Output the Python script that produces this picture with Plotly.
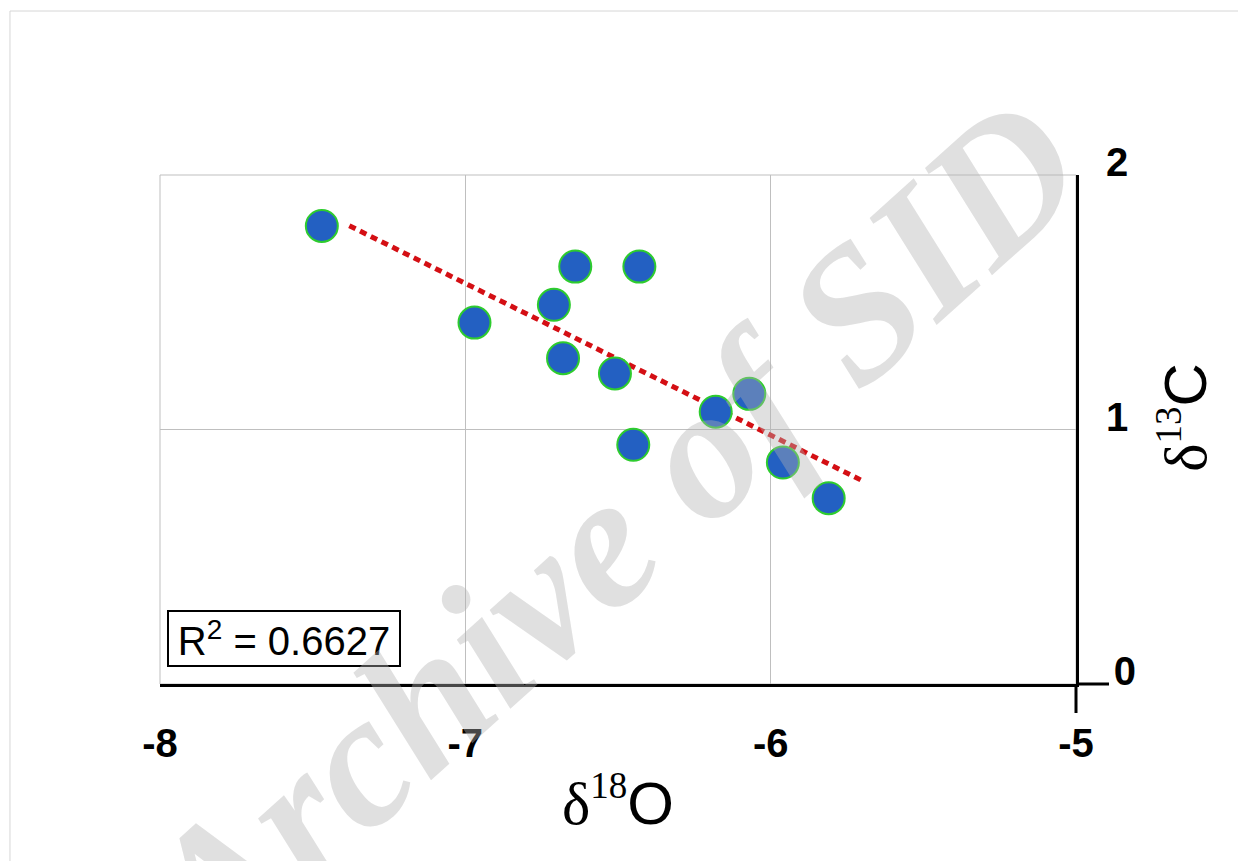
import numpy as np
import plotly.graph_objects as go

# ---- data ----
d18O = [-7.47, -6.97, -6.71, -6.64, -6.43, -6.68, -6.51, -6.45, -6.18, -6.07, -5.96, -5.81]
d13C = [1.80, 1.42, 1.49, 1.64, 1.64, 1.28, 1.22, 0.94, 1.07, 1.14, 0.87, 0.73]
trend_x_range = [-7.38, -5.70]
r2_text = "0.6627"
x_ticks = [-8, -7, -6, -5]
y_ticks = [0, 1, 2]
x_range = [-8, -5]
y_range = [0, 2]
watermark = "Archive of SID"

# linear trend fitted to the points
slope, intercept = np.polyfit(d18O, d13C, 1)
tx = np.array(trend_x_range)
ty = slope * tx + intercept

fig = go.Figure()
fig.add_trace(go.Scatter(
    x=tx, y=ty, mode="lines",
    line=dict(color="#D40F14", width=5, dash="7px,5px"),
    hoverinfo="skip", showlegend=False))
fig.add_trace(go.Scatter(
    x=d18O, y=d13C, mode="markers",
    marker=dict(size=32, color="#2360C2", line=dict(color="#2ECC2E", width=2)),
    showlegend=False))

tickfont = dict(family="Liberation Sans, Arial", size=40, color="black", weight="bold")
serif_sup = ("<span style='font-family:Liberation Serif'>δ</span><sup>"
             "<span style='font-family:Liberation Serif;font-size:37px'>{}</span>"
             "</sup>{}")

y_ticktext = [str(v) for v in y_ticks]
y_ticktext[0] = "<span style='font-size:28px'>\u00a0</span>" + y_ticktext[0]

fig.update_xaxes(
    range=x_range, tickvals=x_ticks, ticktext=[str(v) for v in x_ticks],
    showgrid=True, gridcolor="#BFBFBF", gridwidth=1, zeroline=False,
    showline=True, linecolor="black", linewidth=3,
    ticks="", ticklabelstandoff=22, tickfont=tickfont,
    title=dict(
        text=serif_sup.format("18", "O"),
        font=dict(family="Liberation Sans, Arial", size=60, color="black"),
        standoff=18),
)
fig.update_yaxes(
    range=y_range, tickvals=y_ticks, ticktext=y_ticktext,
    side="right", showgrid=True, gridcolor="#BFBFBF", gridwidth=1, zeroline=False,
    showline=True, linecolor="black", linewidth=3,
    ticks="", ticklabelstandoff=19, ticklabelshift=-13, tickfont=tickfont,
    title=dict(
        text="<span style='font-size:86px'>\u00a0</span>" + serif_sup.format("13", "C"),
        font=dict(family="Liberation Sans, Arial", size=60, color="black"),
        standoff=3),
)

shapes = [
    # light plot-area frame
    dict(type="rect", xref="x domain", yref="y domain", x0=0, x1=1, y0=0, y1=1,
         line=dict(color="#BFBFBF", width=1), layer="below"),
    # tick extensions at the axis crossing (outside the plot area)
    dict(type="line", xref="paper", yref="paper", xsizemode="pixel", ysizemode="pixel",
         xanchor=1, yanchor=0, x0=0, x1=0, y0=0, y1=-29,
         line=dict(color="black", width=3)),
    dict(type="line", xref="paper", yref="paper", xsizemode="pixel", ysizemode="pixel",
         xanchor=1, yanchor=0, x0=0, x1=33, y0=0, y1=0,
         line=dict(color="black", width=3)),
    # thin outer image frame (top and left)
    dict(type="line", xref="paper", yref="paper", x0=-0.1638, x1=1.2, y0=1.3222, y1=1.3222,
         line=dict(color="#D6D6D6", width=1)),
    dict(type="line", xref="paper", yref="paper", x0=-0.1638, x1=-0.1638, y0=1.3222, y1=-0.36,
         line=dict(color="#D6D6D6", width=1)),
]

annotations = [
    dict(text="R<sup>2</sup> = " + r2_text, xref="x domain", yref="y domain",
         x=0.0076, y=0.0334, xanchor="left", yanchor="bottom", showarrow=False,
         font=dict(family="Liberation Sans, Arial", size=40, color="black"),
         bordercolor="black", borderwidth=2, borderpad=2, bgcolor="white",
         width=226, height=49, align="center"),
    dict(text=watermark, xref="paper", yref="paper", x=0.49, y=0.295,
         xanchor="center", yanchor="middle", showarrow=False, textangle=-42,
         font=dict(family="Liberation Serif, Times New Roman", size=190,
                   color="rgba(178,178,178,0.4)", weight="bold", style="italic")),
]

fig.update_layout(
    width=1238, height=853,
    margin=dict(l=152, r=170, t=167, b=177),
    paper_bgcolor="white", plot_bgcolor="white",
    shapes=shapes, annotations=annotations,
    showlegend=False,
)

fig.write_html("out.html")
